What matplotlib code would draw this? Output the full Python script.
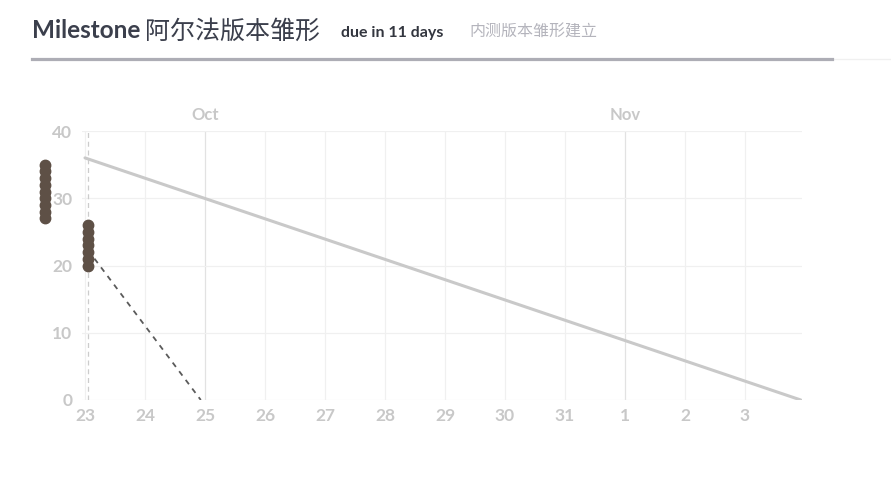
import matplotlib
matplotlib.use("Agg")
import matplotlib.pyplot as plt
from matplotlib.lines import Line2D

# data
day_pos = list(range(12))
day_labels = ['23', '24', '25', '26', '27', '28', '29', '30', '31', '1', '2', '3']
month_pos = [2, 9]
month_labels = ['Oct', 'Nov']
y_ticks = [0, 10, 20, 30, 40]

ideal_x = [0, 11.93]
ideal_y = [36, 0]

early_x = -0.67
early_y = [27, 28, 29, 30, 31, 32, 33, 34, 35]
today_x = 0.05
today_y = [20, 21, 22, 23, 24, 25, 26]

proj_x = [0.05, 1.93]
proj_y = [22.3, 0]

tick_col = '#c8c8c8'
dot_col = '#5e5046'
latin_cjk = ['Lato', 'Noto Sans CJK SC', 'DejaVu Sans']

fig = plt.figure(figsize=(8.91, 4.79), dpi=100)
ax = fig.add_axes([82/891, 79/479, 720/891, 269/479])

# header
fig.text(32/891, 1 - 31/479, 'Milestone', family='Lato',
         fontsize=17.5, color='#3b3f4c', va='center', ha='left', fontweight='bold')
fig.text(145/891, 1 - 31/479, '阿尔法版本雏形', family=latin_cjk,
         fontsize=18, color='#3b3f4c', va='center', ha='left')
fig.text(341/891, 1 - 33/479, 'due in 11 days', family=latin_cjk,
         fontsize=11.5, color='#33363f', va='center', ha='left', fontweight='bold')
fig.text(469/891, 1 - 32/479, '内测版本雏形建立', family=latin_cjk,
         fontsize=11.5, color='#b4b4bc', va='center', ha='left')
fig.add_artist(Line2D([832/891, 1.0], [1 - 59/479] * 2, color='#f0f0f0', lw=1.0))
fig.add_artist(Line2D([32/891, 832/891], [1 - 59/479] * 2, color='#adadb5', lw=2.3))

# grid
for d in day_pos:
    c = '#e2e2e2' if d in month_pos else '#f0f0f0'
    ax.axvline(d, color=c, lw=0.9, zorder=0)
for y in y_ticks:
    ax.axhline(y, color='#f0f0f0', lw=0.9, zorder=0)
ax.axvline(today_x, color='#cccccc', lw=0.9, ls=(0, (4, 3)), zorder=1)

ax.plot(ideal_x, ideal_y, color='#c9c9c9', lw=2.2, solid_capstyle='round', zorder=2)
ax.plot(proj_x, proj_y, color='#5a5a5a', lw=1.3, ls=(0, (3, 3)), zorder=2)
ax.plot([early_x] * len(early_y), early_y, 'o', color=dot_col, ms=7.5,
        clip_on=False, zorder=3)
ax.plot([today_x] * len(today_y), today_y, 'o', color=dot_col, ms=7.5,
        clip_on=False, zorder=3)

for x, m in zip(month_pos, month_labels):
    ax.text(x, 1.06, m, transform=ax.get_xaxis_transform(), ha='center', va='center',
            fontsize=12, color=tick_col, family='Lato', fontweight='bold')

ax.set_xlim(-0.05, 11.95)
ax.set_ylim(0, 40)
ax.set_xticks(day_pos)
ax.set_xticklabels(day_labels)
ax.set_yticks(y_ticks)
ax.tick_params(length=0, colors=tick_col, labelsize=12.5)
ax.tick_params(axis='y', pad=7)
ax.tick_params(axis='x', pad=6)
for lab in ax.get_xticklabels() + ax.get_yticklabels():
    lab.set_family('Lato')
    lab.set_fontweight('bold')
for s in ax.spines.values():
    s.set_visible(False)

fig.savefig('out.png', dpi=100)
